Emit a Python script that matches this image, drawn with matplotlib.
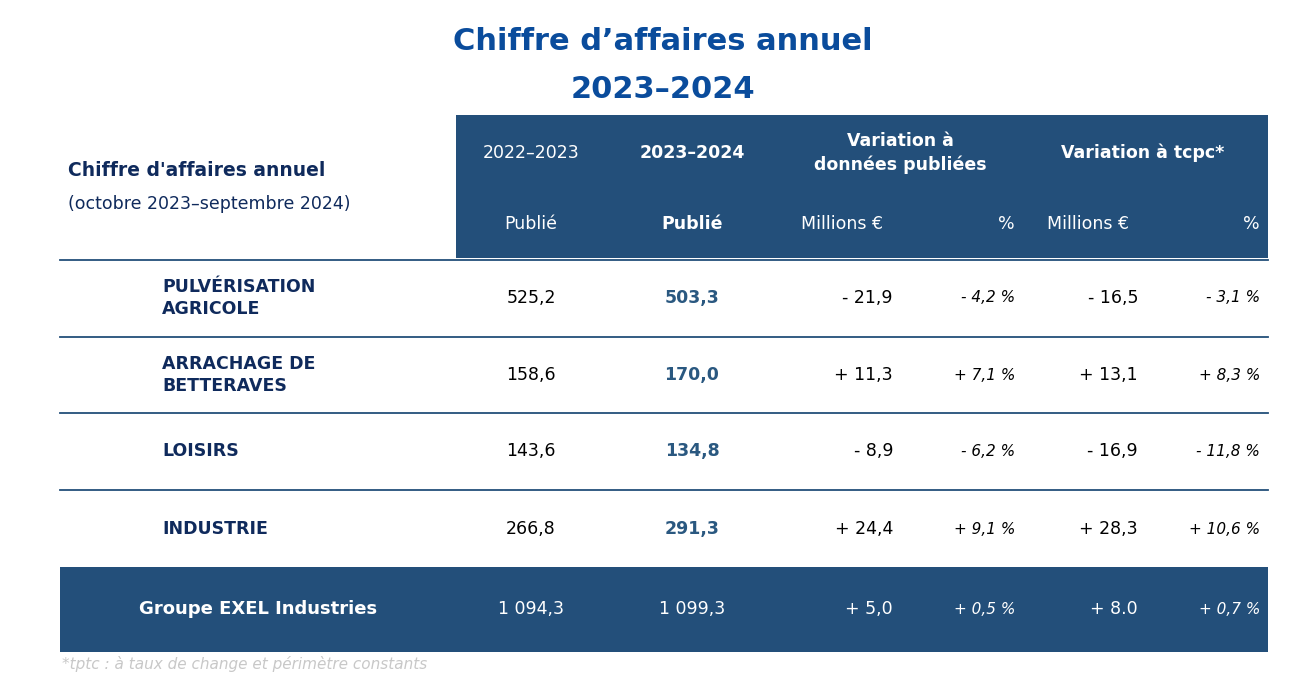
import matplotlib
matplotlib.use("Agg")
from matplotlib import pyplot as plt
from matplotlib.patches import Rectangle

segments = ["PULVÉRISATION\nAGRICOLE", "ARRACHAGE DE\nBETTERAVES", "LOISIRS", "INDUSTRIE"]
prev = ["525,2", "158,6", "143,6", "266,8"]
curr = ["503,3", "170,0", "134,8", "291,3"]
var_m = ["- 21,9", "+ 11,3", "- 8,9", "+ 24,4"]
var_pct = ["- 4,2 %", "+ 7,1 %", "- 6,2 %", "+ 9,1 %"]
tcpc_m = ["- 16,5", "+ 13,1", "- 16,9", "+ 28,3"]
tcpc_pct = ["- 3,1 %", "+ 8,3 %", "- 11,8 %", "+ 10,6 %"]
total = ["Groupe EXEL Industries", "1 094,3", "1 099,3", "+ 5,0", "+ 0,5 %", "+ 8.0", "+ 0,7 %"]

HEAD = "#234f7a"
NAVY = "#0f2a5c"
TITLE = "#0a4c9c"
VAL = "#2a5880"

fig = plt.figure(figsize=(13.14, 6.9), dpi=100)
ax = fig.add_axes([0, 0, 1, 1])
ax.set_xlim(0, 1314)
ax.set_ylim(690, 0)
ax.axis("off")

ax.text(663, 42, "Chiffre d\u2019affaires annuel", ha="center", va="center",
        fontsize=22, fontweight="bold", color=TITLE)
ax.text(663, 90, "2023\u20132024", ha="center", va="center",
        fontsize=22, fontweight="bold", color=TITLE)

# header
ax.add_patch(Rectangle((456, 115), 812, 143, color=HEAD, lw=0))
ax.text(68, 171, "Chiffre d'affaires annuel", fontsize=13.5, fontweight="bold",
        color=NAVY, va="center")
ax.text(68, 204, "(octobre 2023\u2013septembre 2024)", fontsize=12.5, color=NAVY, va="center")
fs = 12.5
ax.text(531, 153, "2022\u20132023", ha="center", va="center", fontsize=fs, color="white")
ax.text(692, 153, "2023\u20132024", ha="center", va="center", fontsize=fs, color="white", fontweight="bold")
ax.text(900, 153, "Variation \u00e0\ndonn\u00e9es publi\u00e9es", ha="center", va="center",
        fontsize=fs, color="white", fontweight="bold", linespacing=1.4)
ax.text(1143, 153, "Variation \u00e0 tcpc*", ha="center", va="center", fontsize=fs,
        color="white", fontweight="bold")
ax.text(531, 224, "Publi\u00e9", ha="center", va="center", fontsize=fs, color="white")
ax.text(692, 224, "Publi\u00e9", ha="center", va="center", fontsize=fs, color="white", fontweight="bold")
ax.text(842, 224, "Millions \u20ac", ha="center", va="center", fontsize=fs, color="white")
ax.text(1015, 224, "%", ha="right", va="center", fontsize=fs, color="white")
ax.text(1088, 224, "Millions \u20ac", ha="center", va="center", fontsize=fs, color="white")
ax.text(1260, 224, "%", ha="right", va="center", fontsize=fs, color="white")

# rows
row_y = [298, 375, 451, 529]
for y in [260, 337, 413, 490]:
    ax.plot([60, 1268], [y, y], color=HEAD, lw=1.3)
for i, y in enumerate(row_y):
    ax.text(162, y, segments[i], ha="left", va="center", fontsize=12.5,
            fontweight="bold", color=NAVY, linespacing=1.35)
    ax.text(531, y, prev[i], ha="center", va="center", fontsize=fs, color="black")
    ax.text(692, y, curr[i], ha="center", va="center", fontsize=fs, color=VAL, fontweight="bold")
    ax.text(893, y, var_m[i], ha="right", va="center", fontsize=fs, color="black")
    ax.text(1015, y, var_pct[i], ha="right", va="center", fontsize=11, color="black", style="italic")
    ax.text(1138, y, tcpc_m[i], ha="right", va="center", fontsize=fs, color="black")
    ax.text(1260, y, tcpc_pct[i], ha="right", va="center", fontsize=11, color="black", style="italic")

# total
ax.add_patch(Rectangle((60, 567), 1208, 85, color=HEAD, lw=0))
ty = 609
ax.text(258, ty, total[0], ha="center", va="center", fontsize=13, fontweight="bold", color="white")
ax.text(531, ty, total[1], ha="center", va="center", fontsize=fs, color="white")
ax.text(692, ty, total[2], ha="center", va="center", fontsize=fs, color="white")
ax.text(893, ty, total[3], ha="right", va="center", fontsize=fs, color="white")
ax.text(1015, ty, total[4], ha="right", va="center", fontsize=11, color="white", style="italic")
ax.text(1138, ty, total[5], ha="right", va="center", fontsize=fs, color="white")
ax.text(1260, ty, total[6], ha="right", va="center", fontsize=11, color="white", style="italic")

ax.text(62, 664, "*tptc : \u00e0 taux de change et p\u00e9rim\u00e8tre constants", ha="left",
        va="center", fontsize=11, color="#c8c8c8", style="italic")

fig.savefig("out.png", dpi=100)
